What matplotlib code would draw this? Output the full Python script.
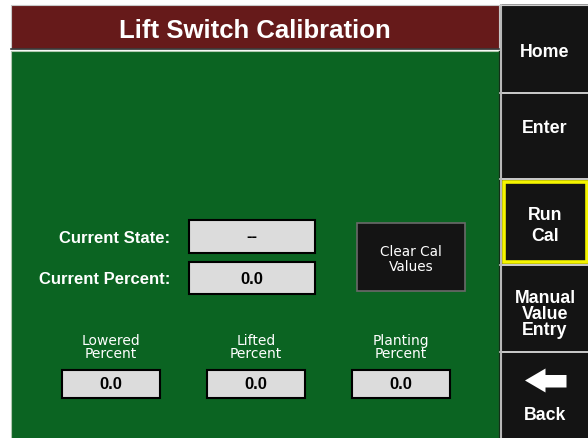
import matplotlib
matplotlib.use("Agg")
import matplotlib.pyplot as plt
from matplotlib.patches import Rectangle, Polygon

# ---- content ----
title = "Lift Switch Calibration"
nav_labels = ["Home", "Enter", "Run\nCal", "Manual\nValue\nEntry", "Back"]
field_labels = ["Current State:", "Current Percent:"]
field_values = ["--", "0.0"]
button_label = "Clear Cal\nValues"
cal_labels = ["Lowered\nPercent", "Lifted\nPercent", "Planting\nPercent"]
cal_values = ["0.0", "0.0", "0.0"]

# ---- style ----
RED = "#661a1a"
GREEN = "#0b6422"
BLACK = "#141414"
FIELD = "#dcdcdc"
BOLD = dict(family=["Liberation Sans", "DejaVu Sans"], weight="bold")
REG = dict(family=["DejaVu Sans"])

fig = plt.figure(figsize=(5.88, 4.39), dpi=100, facecolor="white")
ax = fig.add_axes([0, 0, 1, 1])
ax.set_xlim(0, 588)
ax.set_ylim(439, 0)
ax.axis("off")


def rect(x0, y0, x1, y1, fc, ec="none", lw=0, z=1):
    ax.add_patch(Rectangle((x0, y0), x1 - x0, y1 - y0, facecolor=fc,
                           edgecolor=ec, linewidth=lw, zorder=z))


def lines_text(x, baselines, text, size, font, ha="center", color="white"):
    for yb, line in zip(baselines, text.split("\n")):
        ax.text(x, yb, line, ha=ha, va="baseline", fontsize=size,
                color=color, zorder=10, **font)


# title bar
rect(11, 6, 499, 49.5, RED, ec="#c8c8c8", lw=0.8)
ax.plot([11, 499], [50.3, 50.3], color="#3a3a3a", lw=1.2, zorder=2)
lines_text(255, [37.5], title, 18.5, BOLD)

# green main panel
rect(11, 51.5, 499, 440, GREEN, ec="#b0c8b0", lw=0.8)
ax.plot([498.5, 498.5], [51.5, 439], color="#0a2a10", lw=1.0, zorder=2)

# right navigation column
rect(500, 0, 588, 439, "#9a9a9a")
btn_bounds = [(6, 92.5), (95, 179), (181, 264.5), (267, 351.5), (354, 440)]
for (y0, y1) in btn_bounds:
    rect(502, y0, 588, y1, BLACK, z=2)
for y in [93.7, 180, 265.7, 352.7]:
    ax.plot([500, 588], [y, y], color="#d0d0d0", lw=1.2, zorder=3)
ax.plot([501, 501], [0, 439], color="#b8b8b8", lw=1.5, zorder=3)
ax.plot([500, 588], [5.5, 5.5], color="#cfcfcf", lw=0.8, zorder=3)
rect(500, 0, 588, 5, "white", z=4)

# selected button highlight
rect(503.5, 182.5, 586.5, 262.5, "none", ec="#f5f500", lw=2.6, z=5)

nav_baselines = [[57], [133.5], [220, 241.5], [303.5, 319.5, 335.5], [420.5]]
for lbl, bl in zip(nav_labels, nav_baselines):
    lines_text(545, bl, lbl, 12.8, BOLD)

# back arrow
arrow = Polygon([(525, 381.5), (545.5, 369.5), (545.5, 376), (566.5, 376),
                 (566.5, 388.5), (545.5, 388.5), (545.5, 393.5)],
                closed=True, facecolor="white", edgecolor="none", zorder=6)
ax.add_patch(arrow)

# current state / percent fields
field_rows = [(221, 253.5), (262.5, 295)]
field_label_bl = [243.5, 284.5]
field_value_bl = [241, 284.5]
for lbl, val, (y0, y1), lb, vb in zip(field_labels, field_values, field_rows,
                                      field_label_bl, field_value_bl):
    lines_text(170, [lb], lbl, 12, BOLD, ha="right")
    rect(188.5, y0, 315, y1, FIELD, ec="black", lw=1.5, z=3)
    lines_text(251.5, [vb], val, 12, BOLD, color="black")

# clear cal button
rect(357, 224, 465, 292, BLACK, ec="#6a6a6a", lw=1.2, z=3)
lines_text(411, [255.7, 271], button_label, 9.8, REG)

# calibration values
cal_x = [111, 256, 400.5]
for x, lbl, val in zip(cal_x, cal_labels, cal_values):
    lines_text(x, [345, 358.5], lbl, 10, REG)
    rect(x - 49, 371, x + 49, 399, FIELD, ec="black", lw=1.5, z=3)
    lines_text(x, [389.5], val, 12, BOLD, color="black")

fig.savefig("out.png", dpi=100, facecolor="white")
